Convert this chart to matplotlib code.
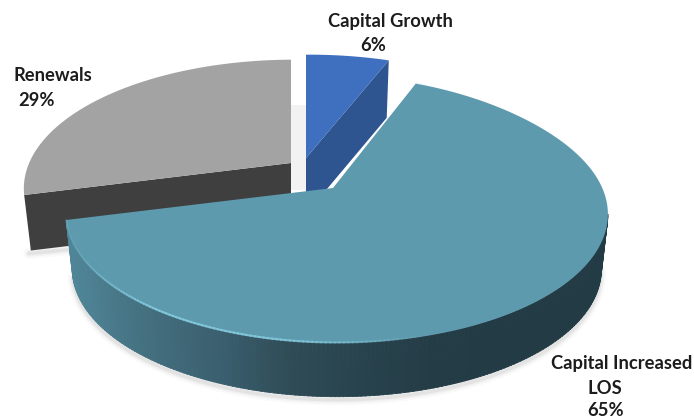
import numpy as np
import matplotlib
matplotlib.use("Agg")
import matplotlib.pyplot as plt
from matplotlib.collections import LineCollection
from matplotlib.colors import LinearSegmentedColormap

plt.rcParams['font.family'] = ['Lato', 'DejaVu Sans']

# slices, clockwise from 12 o'clock
names = ["Capital Growth", "Capital Increased LOS", "Renewals"]
shares = [6, 65, 29]

top_colors = ["#3f6fbf", "#5e9aae", "#a3a3a3"]
cut_colors = ["#2f5590", "#3f6f82", "#3f3f3f"]
# where the tip of each exploded slice lands on the canvas
tips = [(306, 158), (333, 188), (291, 163)]
# far side of the big slice rises a little more
lifts = [0.0, 0.08, 0.0]

wall_map = LinearSegmentedColormap.from_list(
    "wall", ["#4f8598", "#44707f", "#3b6070", "#2f4c57", "#28434e", "#243c46", "#233b45"])

# perspective of the tilted disc
RX, RY, KY, KX = 265.5, 124.0, 0.20, -0.014
DEPTH = 56.0


def project(i, ang, bottom=False):
    # ang in degrees clockwise from the top of the disc
    a = np.radians(ang)
    x = np.sin(a)
    y = np.cos(a)
    w = 1 + KY * y + KX * x
    px = RX * x / w
    py = RY * y / w * (1 + lifts[i] * np.maximum(y, 0) ** 2)
    if bottom:
        return tips[i][0] + px * 0.975, tips[i][1] - py * 0.985 + DEPTH
    return tips[i][0] + px, tips[i][1] - py


edges = np.cumsum([0] + shares) * 3.6

fig = plt.figure(figsize=(6.94, 4.17), dpi=100)
ax = fig.add_axes([0, 0, 1, 1])
ax.set_xlim(0, 694)
ax.set_ylim(417, 0)
ax.axis("off")


def arc(i, bottom=False, n=300):
    return project(i, np.linspace(edges[i], edges[i + 1], n), bottom=bottom)


def soft_shadow(xs, ys, dx, dy, z):
    # a few wide translucent strokes make the blurred drop shadow
    for lw, al in [(8, 0.04), (5, 0.07), (2.5, 0.12)]:
        ax.plot(xs + dx, ys + dy, color="#808080", lw=lw, alpha=al, zorder=z,
                solid_capstyle="round")


# faint shadow in the gap behind the slices
ax.fill([291, 306, 306, 291], [105, 105, 190, 190], color="#f2f2f2", lw=0, zorder=1)

# Capital Growth
i = 0
ex, ey = arc(i)
bx, by = project(i, edges[i + 1], bottom=True)
ax.fill([tips[i][0], ex[-1], bx, tips[i][0]],
        [tips[i][1], ey[-1], by, tips[i][1] + DEPTH],
        color=cut_colors[i], lw=0, zorder=2)
ax.fill(np.r_[tips[i][0], ex], np.r_[tips[i][1], ey], color=top_colors[i], lw=0, zorder=3)

# Renewals
i = 2
ex, ey = arc(i)
bx, by = project(i, edges[i], bottom=True)
soft_shadow(np.array([bx, bx + 60]), np.array([by, by - 6]), -2, 3, 1)
ax.fill([ex[0], tips[i][0], tips[i][0], bx],
        [ey[0], tips[i][1], tips[i][1] + DEPTH, by],
        color=cut_colors[i], lw=0, zorder=2)
ax.fill(np.r_[tips[i][0], ex], np.r_[tips[i][1], ey], color=top_colors[i], lw=0, zorder=3)

# Capital Increased LOS, the big one sits in front
i = 1
ex, ey = arc(i)
bx, by = arc(i, bottom=True)
front = np.argmax(ex)
soft_shadow(bx[front:], by[front:], 0, 3, 4)

# outer wall as thin strips, shaded left to right
for j in range(front, len(ex) - 1):
    t = np.clip((ex[j] - 70) / 440.0, 0, 1)
    ax.fill([ex[j], ex[j + 1], bx[j + 1] - 0.3, bx[j] + 0.3],
            [ey[j], ey[j + 1], by[j + 1], by[j]],
            color=wall_map(t), lw=0.6, zorder=5)

ax.fill(np.r_[tips[i][0], ex], np.r_[tips[i][1], ey], color=top_colors[i], lw=0, zorder=6)

# bright rim along the front left edge, strongest mid way
rim = np.column_stack([ex, ey - 0.5])
segs = np.stack([rim[:-1], rim[1:]], axis=1)
fade = np.clip((430 - ex[:-1]) / 150.0, 0, 1) * np.clip((ex[:-1] - 66) / 90.0, 0.15, 1) * 0.75
rim_col = np.zeros((len(segs), 4))
rim_col[:, :3] = matplotlib.colors.to_rgb("#86cde0")
rim_col[:, 3] = fade
ax.add_collection(LineCollection(segs, colors=rim_col, linewidths=1.6, zorder=7,
                                 capstyle="round"))

# labels
FS = 13.2
txt = dict(fontsize=FS, fontweight="bold", color="#1c1c1c", va="center", zorder=10)
ax.text(390, 21, names[0], ha="center", **txt)
ax.text(373, 45, "{}%".format(shares[0]), ha="center", **txt)
ax.text(14, 75, names[2], ha="left", **txt)
ax.text(18, 100, "{}%".format(shares[2]), ha="left", **txt)
ax.text(622, 363, "Capital Increased", ha="center", **txt)
ax.text(605, 388, "LOS", ha="center", **txt)
ax.text(606, 410, "{}%".format(shares[1]), ha="center", **txt)

fig.savefig("out.png", dpi=100)
